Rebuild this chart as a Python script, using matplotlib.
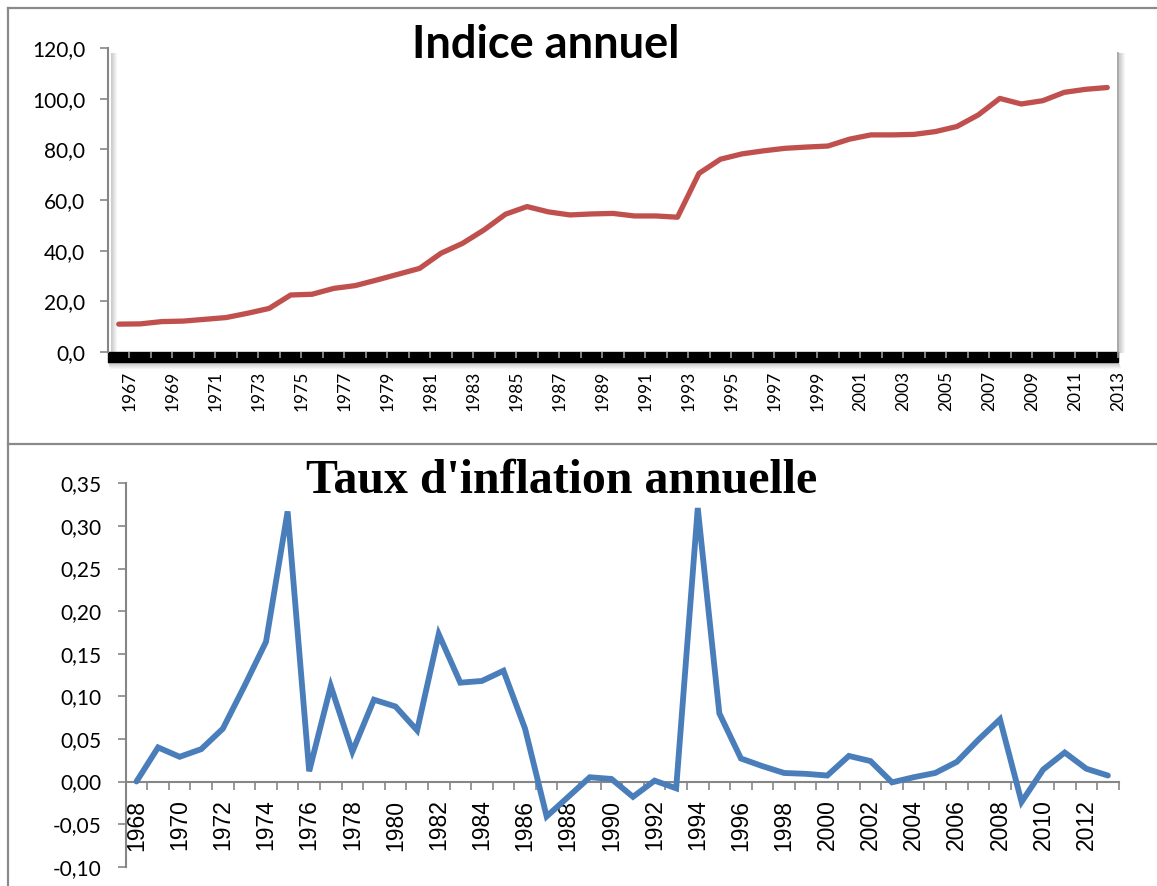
import matplotlib
matplotlib.use("Agg")
import matplotlib.pyplot as plt
from matplotlib import transforms
from matplotlib.lines import Line2D
from matplotlib.patches import Rectangle

# --- données ---
annees_indice = list(range(1967, 2014))
indice = [11.0, 11.1, 12.0, 12.2, 12.9, 13.6, 15.3, 17.2, 22.5, 22.8,
          25.1, 26.2, 28.4, 30.7, 33.0, 39.0, 42.9, 48.2, 54.4, 57.4,
          55.3, 54.1, 54.5, 54.7, 53.7, 53.7, 53.2, 70.5, 76.1, 78.2,
          79.4, 80.4, 80.9, 81.3, 84.0, 85.7, 85.7, 85.9, 87.0, 89.0,
          93.6, 100.1, 97.9, 99.2, 102.5, 103.7, 104.4]

annees_inflation = list(range(1968, 2014))
inflation = [0.000, 0.040, 0.029, 0.038, 0.062, 0.112, 0.164, 0.317, 0.012, 0.112,
             0.035, 0.096, 0.088, 0.060, 0.173, 0.116, 0.118, 0.130, 0.062, -0.041,
             -0.018, 0.005, 0.003, -0.018, 0.001, -0.008, 0.321, 0.080, 0.027, 0.018,
             0.010, 0.009, 0.007, 0.030, 0.024, -0.001, 0.005, 0.010, 0.023, 0.049,
             0.073, -0.024, 0.014, 0.034, 0.015, 0.007]

ticks_indice = [0, 20, 40, 60, 80, 100, 120]
ticks_inflation = [-0.10, -0.05, 0.00, 0.05, 0.10, 0.15, 0.20, 0.25, 0.30, 0.35]

ROUGE = '#C0504D'
BLEU = '#4A7EBB'
GRIS = '#868686'
W, H = 1157, 886

fig = plt.figure(figsize=(W / 100, H / 100), dpi=100)


def fx(px):
    return px / W


def fy(py):
    return 1 - py / H


def ombre(ax, x0, y0, x1, y1, dx, dy, n=6):
    # petit dégradé gris pour imiter l'ombre d'Excel
    for i in range(1, n + 1):
        tr = transforms.offset_copy(ax.transAxes, fig=fig, x=dx * i, y=dy * i, units='dots')
        ax.add_line(Line2D([x0, x1], [y0, y1], transform=tr, color='black',
                           alpha=0.22 * (1 - i / (n + 1)), lw=0.8, clip_on=False, zorder=0.5))


# cadres des deux graphiques
for line in [([fx(8), fx(1170)], [fy(8), fy(8)]),
             ([fx(8), fx(8)], [fy(8), fy(900)]),
             ([fx(8), fx(1170)], [fy(444), fy(444)])]:
    fig.add_artist(Line2D(line[0], line[1], color='#8a8a8a', lw=1.6))

# ---------- graphique du haut : indice ----------
ax1 = fig.add_axes([fx(108), fy(352), fx(1118) - fx(108), fy(48) - fy(352)])
n1 = len(indice)
ax1.plot(range(n1), indice, color=ROUGE, lw=3.8, solid_capstyle='round',
         solid_joinstyle='round', zorder=3)
ax1.set_xlim(-0.5, n1 - 0.5)
ax1.set_ylim(0, 120)
ax1.set_yticks(ticks_indice)
ax1.set_yticklabels([f"{v:.1f}".replace('.', ',') for v in ticks_indice])

pos_lab = [k + 0.5 for k in range(0, n1, 2)]
ax1.set_xticks(pos_lab)
ax1.set_xticklabels([str(annees_indice[k]) for k in range(0, n1, 2)])
ax1.set_xticks([k + 0.5 for k in range(n1)], minor=True)
ax1.tick_params(axis='x', which='both', direction='out', length=4.5, width=1.2,
                color='#9a9a9a', pad=9, labelsize=12.5, labelfontfamily='Lato',
                labelrotation=90)
ax1.tick_params(axis='y', direction='out', length=5.8, width=1.2, color=GRIS,
                pad=10.5, labelsize=15, labelfontfamily='Lato')
ax1.spines['top'].set_visible(False)
ax1.spines['left'].set_color(GRIS)
ax1.spines['left'].set_linewidth(1.5)
ax1.spines['bottom'].set_visible(False)
ax1.spines['right'].set_color('#9a9a9a')
ax1.spines['right'].set_linewidth(1.2)
ax1.spines['right'].set_bounds(0, 120 - 5 / 2.533)

# bande noire sous l'axe des abscisses
bande = 10 / 304
ax1.add_patch(Rectangle((0, -bande), 1, bande, transform=ax1.transAxes,
                        color='black', clip_on=False, zorder=1))
ombre(ax1, 0.002, 0.0, 0.002, 0.985, 1, 0)
ombre(ax1, 1.0, 0.0, 1.0, 0.985, 1, 0)
ombre(ax1, 0.0, -bande, 1.0, -bande, 0.3, -1)

fig.text(fx(546), fy(58), "Indice annuel", fontsize=32.5, fontweight='bold',
         family='Lato', ha='center', va='baseline')

# ---------- graphique du bas : inflation ----------
ax2 = fig.add_axes([fx(125.7), fy(866.7), fx(1118.7) - fx(125.7), fy(483.3) - fy(866.7)])
n2 = len(inflation)
ax2.plot(range(n2), inflation, color=BLEU, lw=4.2, solid_capstyle='round',
         solid_joinstyle='miter', zorder=3)
ax2.set_xlim(-0.5, n2 - 0.5)
ax2.set_ylim(-0.10, 0.35)
ax2.set_yticks(ticks_inflation)
ax2.set_yticklabels([f"{v:.2f}".replace('.', ',') for v in ticks_inflation])

ax2.set_xticks([k - 0.5 for k in range(n2 + 1)])
ax2.set_xticklabels([])
ax2.set_xticks(list(range(0, n2, 2)), minor=True)
ax2.set_xticklabels([str(annees_inflation[k]) for k in range(0, n2, 2)], minor=True)
ax2.tick_params(axis='x', which='major', direction='out', length=5.8, width=1.2,
                color=GRIS)
ax2.tick_params(axis='x', which='minor', length=0, pad=13, labelsize=16.5,
                labelfontfamily='Liberation Sans', labelrotation=90)
ax2.tick_params(axis='y', direction='out', length=5.8, width=1.2, color=GRIS,
                pad=11.5, labelsize=15, labelfontfamily='Lato')
ax2.spines['top'].set_visible(False)
ax2.spines['right'].set_visible(False)
ax2.spines['left'].set_color(GRIS)
ax2.spines['left'].set_linewidth(1.5)
ax2.spines['bottom'].set_position(('data', 0))
ax2.spines['bottom'].set_color(GRIS)
ax2.spines['bottom'].set_linewidth(1.5)

fig.text(fx(561.5), fy(493.3), "Taux d'inflation annuelle", fontsize=34.5,
         fontweight='bold', family='Liberation Serif', ha='center', va='baseline')

fig.savefig("out.png", dpi=100)
